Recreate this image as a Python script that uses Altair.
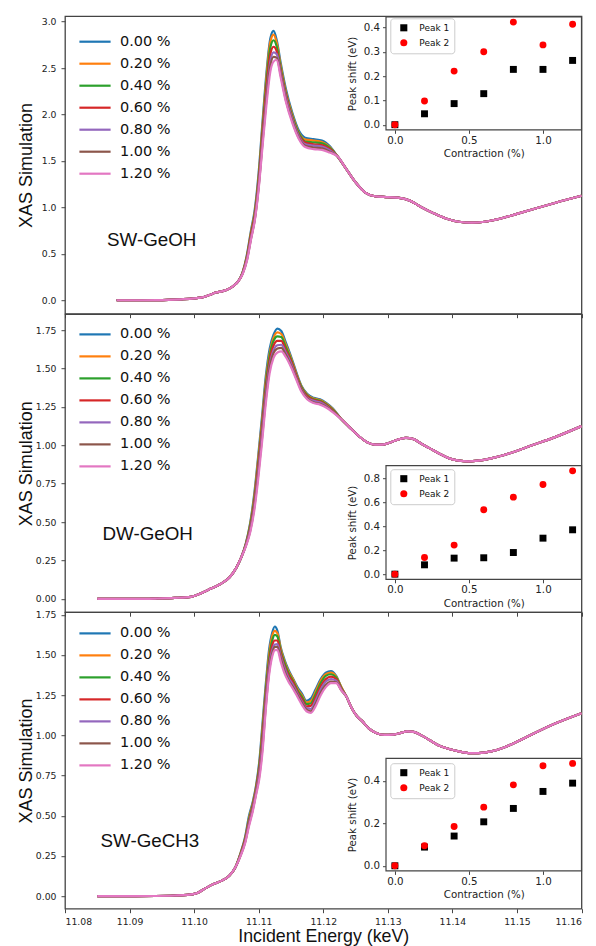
import altair as alt
import pandas as pd

# ---------------------------------------------------------------------------
# Shared categories
# ---------------------------------------------------------------------------
LEVELS = ["0.00 %", "0.20 %", "0.40 %", "0.60 %", "0.80 %", "1.00 %", "1.20 %"]
LINE_COLORS = ["#1f77b4", "#ff7f0e", "#2ca02c", "#d62728", "#9467bd", "#8c564b", "#e377c2"]
CONTRACTION = [0.0, 0.2, 0.4, 0.6, 0.8, 1.0, 1.2]
PEAKS = ["Peak 1", "Peak 2"]
E_TICKS = [11.08, 11.09, 11.10, 11.11, 11.12, 11.13, 11.14, 11.15, 11.16]

# ---------------------------------------------------------------------------
# SW-GeOH spectra (keV, arb. units)
# ---------------------------------------------------------------------------
SW_OH_E_EDGE = [11.0880, 11.0900, 11.0920, 11.0940, 11.0960, 11.0980, 11.1000,
                11.1015, 11.1025, 11.1032, 11.1040, 11.1050, 11.1060, 11.1068]
SW_OH_EDGE = [0.000, 0.000, 0.000, 0.001, 0.004, 0.010, 0.020,
              0.035, 0.060, 0.080, 0.092, 0.110, 0.150, 0.200]
SW_OH_E_PEAK = [11.1075, 11.1082, 11.1088, 11.1094, 11.1100, 11.1106, 11.1112, 11.1118, 11.1123,
                11.1128, 11.1134, 11.1142, 11.1152, 11.1162, 11.1172, 11.1185, 11.1198, 11.1210]
SW_OH_PEAK = [
    [0.30, 0.50, 0.75, 0.98, 1.38, 1.93, 2.45, 2.82, 2.90, 2.80, 2.56, 2.28, 2.02, 1.83, 1.75, 1.735, 1.72, 1.66],
    [0.297, 0.485, 0.73, 0.95, 1.34, 1.88, 2.40, 2.78, 2.86, 2.77, 2.53, 2.25, 2.00, 1.81, 1.73, 1.72, 1.705, 1.65],
    [0.294, 0.475, 0.71, 0.93, 1.31, 1.83, 2.34, 2.72, 2.80, 2.73, 2.50, 2.23, 1.98, 1.80, 1.71, 1.70, 1.69, 1.64],
    [0.29, 0.465, 0.70, 0.91, 1.28, 1.79, 2.28, 2.65, 2.73, 2.68, 2.47, 2.21, 1.96, 1.78, 1.70, 1.68, 1.67, 1.63],
    [0.286, 0.45, 0.67, 0.88, 1.24, 1.73, 2.20, 2.57, 2.67, 2.65, 2.45, 2.19, 1.95, 1.77, 1.68, 1.665, 1.655, 1.615],
    [0.283, 0.44, 0.66, 0.87, 1.22, 1.70, 2.16, 2.52, 2.62, 2.61, 2.43, 2.16, 1.93, 1.75, 1.665, 1.645, 1.635, 1.60],
    [0.28, 0.43, 0.65, 0.86, 1.20, 1.66, 2.10, 2.46, 2.57, 2.59, 2.40, 2.14, 1.91, 1.74, 1.65, 1.627, 1.62, 1.59],
]
SW_OH_E_TAIL = [11.1222, 11.1235, 11.1250, 11.1265, 11.1280, 11.1300, 11.1320, 11.1335, 11.1350, 11.1370,
                11.1390, 11.1410, 11.1430, 11.1450, 11.1475, 11.1500, 11.1530, 11.1560, 11.1600]
SW_OH_TAIL = [1.55, 1.42, 1.27, 1.16, 1.12, 1.11, 1.10, 1.07, 1.01, 0.94,
              0.88, 0.845, 0.835, 0.845, 0.88, 0.93, 0.99, 1.05, 1.125]
SW_OH_SHIFT_P1 = [0.0, 0.045, 0.087, 0.128, 0.228, 0.228, 0.265]
SW_OH_SHIFT_P2 = [0.0, 0.098, 0.221, 0.301, 0.423, 0.329, 0.414]

# ---------------------------------------------------------------------------
# DW-GeOH spectra
# ---------------------------------------------------------------------------
DW_OH_E_EDGE = [11.0850, 11.0880, 11.0910, 11.0940, 11.0970, 11.0995,
                11.1010, 11.1025, 11.1040, 11.1055, 11.1065, 11.1073]
DW_OH_EDGE = [0.000, 0.000, 0.000, 0.002, 0.006, 0.013,
              0.035, 0.065, 0.095, 0.140, 0.200, 0.270]
DW_OH_E_PEAK = [11.1080, 11.1087, 11.1093, 11.1099, 11.1105, 11.1111, 11.1117, 11.1123, 11.1129, 11.1135,
                11.1142, 11.1150, 11.1158, 11.1166, 11.1175, 11.1185, 11.1195, 11.1205, 11.1215]
DW_OH_PEAK = [
    [0.36, 0.50, 0.68, 0.92, 1.18, 1.45, 1.63, 1.72, 1.76, 1.745, 1.67, 1.58, 1.48, 1.39, 1.335, 1.31, 1.30, 1.275, 1.24],
    [0.357, 0.49, 0.66, 0.90, 1.15, 1.42, 1.60, 1.70, 1.735, 1.725, 1.655, 1.57, 1.47, 1.385, 1.33, 1.305, 1.295, 1.27, 1.235],
    [0.354, 0.48, 0.64, 0.87, 1.12, 1.39, 1.58, 1.68, 1.71, 1.705, 1.64, 1.56, 1.46, 1.38, 1.325, 1.30, 1.29, 1.265, 1.23],
    [0.35, 0.465, 0.62, 0.85, 1.10, 1.36, 1.55, 1.65, 1.68, 1.68, 1.62, 1.55, 1.455, 1.37, 1.32, 1.295, 1.285, 1.26, 1.225],
    [0.347, 0.455, 0.60, 0.82, 1.07, 1.33, 1.52, 1.62, 1.652, 1.655, 1.605, 1.535, 1.445, 1.365, 1.31, 1.29, 1.28, 1.255, 1.22],
    [0.344, 0.445, 0.59, 0.80, 1.04, 1.30, 1.50, 1.60, 1.63, 1.635, 1.59, 1.52, 1.44, 1.36, 1.305, 1.28, 1.27, 1.25, 1.22],
    [0.34, 0.435, 0.57, 0.77, 1.01, 1.27, 1.47, 1.57, 1.605, 1.612, 1.575, 1.51, 1.43, 1.35, 1.30, 1.275, 1.265, 1.245, 1.215],
]
DW_OH_E_TAIL = [11.1228, 11.1240, 11.1255, 11.1268, 11.1280, 11.1292, 11.1305, 11.1318, 11.1328, 11.1340, 11.1352,
                11.1365, 11.1380, 11.1395, 11.1410, 11.1425, 11.1440, 11.1460, 11.1490, 11.1520, 11.1560, 11.1600]
DW_OH_TAIL = [1.17, 1.12, 1.06, 1.02, 1.005, 1.005, 1.02, 1.04, 1.048, 1.04, 1.01,
              0.98, 0.945, 0.915, 0.90, 0.895, 0.90, 0.915, 0.95, 0.995, 1.055, 1.125]
DW_OH_SHIFT_P1 = [0.0, 0.078, 0.134, 0.137, 0.181, 0.301, 0.371]
DW_OH_SHIFT_P2 = [0.0, 0.139, 0.243, 0.538, 0.644, 0.750, 0.864]

# ---------------------------------------------------------------------------
# SW-GeCH3 spectra
# ---------------------------------------------------------------------------
SW_CH3_E_EDGE = [11.0850, 11.0880, 11.0910, 11.0940, 11.0970, 11.0990,
                 11.1005, 11.1018, 11.1030, 11.1042, 11.1054, 11.1064]
SW_CH3_EDGE = [0.000, 0.000, 0.000, 0.001, 0.004, 0.008,
               0.020, 0.050, 0.075, 0.095, 0.125, 0.180]
SW_CH3_E_PEAK = [11.1072, 11.1079, 11.1085, 11.1091, 11.1096, 11.1101, 11.1106, 11.1111, 11.1116,
                 11.1121, 11.1125, 11.1129, 11.1134, 11.1140, 11.1146, 11.1153, 11.1160, 11.1167,
                 11.1174, 11.1181, 11.1188, 11.1196, 11.1204, 11.1212, 11.1220, 11.1228]
SW_CH3_PEAK = [
    [0.27, 0.37, 0.50, 0.59, 0.69, 0.84, 1.08, 1.32, 1.53, 1.64, 1.677, 1.65, 1.55, 1.47, 1.41, 1.355,
     1.30, 1.26, 1.215, 1.23, 1.285, 1.35, 1.39, 1.40, 1.37, 1.30],
    [0.267, 0.36, 0.485, 0.58, 0.68, 0.82, 1.05, 1.29, 1.50, 1.62, 1.65, 1.635, 1.54, 1.46, 1.40, 1.35,
     1.29, 1.25, 1.205, 1.215, 1.27, 1.34, 1.38, 1.39, 1.365, 1.30],
    [0.264, 0.355, 0.475, 0.57, 0.67, 0.81, 1.02, 1.27, 1.47, 1.59, 1.625, 1.615, 1.525, 1.45, 1.39, 1.34,
     1.28, 1.24, 1.195, 1.20, 1.255, 1.325, 1.37, 1.38, 1.36, 1.295],
    [0.26, 0.35, 0.465, 0.56, 0.66, 0.79, 0.99, 1.24, 1.44, 1.56, 1.59, 1.59, 1.51, 1.43, 1.375, 1.33,
     1.27, 1.225, 1.18, 1.185, 1.235, 1.305, 1.35, 1.365, 1.35, 1.29],
    [0.257, 0.34, 0.455, 0.55, 0.65, 0.77, 0.96, 1.21, 1.42, 1.53, 1.565, 1.567, 1.495, 1.42, 1.36, 1.315,
     1.26, 1.21, 1.17, 1.165, 1.215, 1.285, 1.335, 1.35, 1.34, 1.285],
    [0.254, 0.335, 0.445, 0.54, 0.64, 0.75, 0.93, 1.18, 1.39, 1.51, 1.55, 1.551, 1.48, 1.40, 1.345, 1.30,
     1.25, 1.20, 1.16, 1.15, 1.195, 1.265, 1.315, 1.335, 1.33, 1.28],
    [0.25, 0.33, 0.435, 0.53, 0.63, 0.73, 0.90, 1.16, 1.37, 1.49, 1.53, 1.532, 1.46, 1.385, 1.335, 1.29,
     1.24, 1.19, 1.15, 1.14, 1.18, 1.25, 1.30, 1.325, 1.325, 1.28],
]
SW_CH3_E_TAIL = [11.1236, 11.1244, 11.1252, 11.1260, 11.1270, 11.1282, 11.1295, 11.1308, 11.1320, 11.1330,
                 11.1340, 11.1352, 11.1365, 11.1380, 11.1395, 11.1410, 11.1425, 11.1440, 11.1460, 11.1480,
                 11.1500, 11.1530, 11.1560, 11.1600]
SW_CH3_TAIL = [1.24, 1.17, 1.12, 1.09, 1.045, 1.015, 1.003, 1.005, 1.015, 1.025,
               1.022, 1.00, 0.97, 0.935, 0.915, 0.90, 0.89, 0.89, 0.90, 0.925,
               0.96, 1.02, 1.075, 1.138]
SW_CH3_SHIFT_P1 = [0.0, 0.088, 0.140, 0.207, 0.270, 0.350, 0.389]
SW_CH3_SHIFT_P2 = [0.0, 0.094, 0.185, 0.276, 0.381, 0.471, 0.482]

# ---------------------------------------------------------------------------
# Layout constants
# ---------------------------------------------------------------------------
PANEL_W = 516.5
INSET_X_DOMAIN = [-0.06, 1.26]
INSET_X_RANGE = [321, PANEL_W]


def spectra_table(e_edge, v_edge, e_peak, peak_rows, e_tail, v_tail):
    energies = e_edge + e_peak + e_tail
    records = []
    for level, peak_vals in zip(LEVELS, peak_rows):
        values = v_edge + peak_vals + v_tail
        for e, v in zip(energies, values):
            records.append({"energy": e, "xas": v, "contraction": level})
    return pd.DataFrame(records)


def shift_table(p1, p2):
    records = []
    for peak, shifts in zip(PEAKS, (p1, p2)):
        for c, s in zip(CONTRACTION, shifts):
            records.append({"strain": c, "shift": s, "peak": peak})
    return pd.DataFrame(records)


def panel(spectra, shifts, name, label_at, y_dom, y_ticks, y_fmt, height, legend_y,
          inset_y_dom, inset_y_range, inset_y_ticks, inset_legend_y, bottom):
    if bottom:
        x_axis = alt.Axis(values=E_TICKS, format=".2f", domain=False, tickSize=4, labelPadding=5,
                          title="Incident Energy (keV)", titleY=18.5, titleBaseline="top",
                          titleFontSize=17.8)
    else:
        x_axis = alt.Axis(values=E_TICKS, format=".2f", domain=False, tickSize=4, labels=False, title=None)
    y_axis = alt.Axis(values=y_ticks, format=y_fmt, title="XAS Simulation", domain=False,
                      tickSize=4, labelPadding=5, minExtent=27, maxExtent=27, titlePadding=3)
    x_scale = alt.Scale(domain=[11.08, 11.16], nice=False, zero=False)
    y_scale = alt.Scale(domain=y_dom, nice=False, zero=False)

    lines = alt.Chart(spectra).mark_line(strokeWidth=2.2, interpolate="monotone").encode(
        x=alt.X("energy:Q", scale=x_scale, axis=x_axis),
        y=alt.Y("xas:Q", scale=y_scale, axis=y_axis),
        color=alt.Color(
            "contraction:N",
            scale=alt.Scale(domain=LEVELS, range=LINE_COLORS),
            legend=alt.Legend(orient="none", legendX=22.5, legendY=legend_y, title=None,
                              symbolType="M-2.6,0H2.6", symbolSize=144, symbolStrokeWidth=2.2,
                              labelFont="DejaVu Sans", labelFontSize=14.5, labelColor="#111",
                              labelOffset=17.5, rowPadding=7, padding=0),
        ),
    )

    label = alt.Chart(pd.DataFrame({"energy": [label_at[0]], "xas": [label_at[1]], "name": [name]})).mark_text(
        align="left", baseline="middle", font="Liberation Sans", fontSize=18.8, color="#111"
    ).encode(x=alt.X("energy:Q", scale=x_scale, axis=x_axis),
             y=alt.Y("xas:Q", scale=y_scale, axis=y_axis),
             text="name:N")

    ix = alt.Scale(domain=INSET_X_DOMAIN, range=INSET_X_RANGE, nice=False, zero=False)
    iy = alt.Scale(domain=inset_y_dom, range=inset_y_range, nice=False, zero=False)
    ix_axis = alt.Axis(orient="bottom", offset=-(height - inset_y_range[0]), values=[0.0, 0.5, 1.0],
                       format=".1f", title="Contraction (%)", domain=False, tickSize=3.5,
                       labelPadding=2, titlePadding=3, labelFontSize=10.3, titleFont="DejaVu Sans",
                       titleFontSize=10.3, titleColor="#222")
    iy_axis = alt.Axis(orient="left", offset=-INSET_X_RANGE[0], values=inset_y_ticks, format=".1f",
                       title="Peak shift (eV)", domain=False, tickSize=3.5, labelPadding=3,
                       titlePadding=4, minExtent=24, maxExtent=24, labelFontSize=10.3,
                       titleFont="DejaVu Sans", titleFontSize=10.3, titleColor="#222")

    frame = alt.Chart(pd.DataFrame({"x0": [INSET_X_DOMAIN[0]], "x1": [INSET_X_DOMAIN[1]],
                                    "y0": [inset_y_dom[0]], "y1": [inset_y_dom[1]]})).mark_rect(
        fill="white", stroke="#444", strokeWidth=1.2
    ).encode(x=alt.X("x0:Q", scale=ix, axis=ix_axis), x2="x1:Q",
             y=alt.Y("y0:Q", scale=iy, axis=iy_axis), y2="y1:Q")

    peak_legend = alt.Legend(orient="none", legendX=325.3, legendY=inset_legend_y, title=None,
                             symbolSize=50, labelFont="DejaVu Sans", labelFontSize=9,
                             labelColor="#111", labelOffset=11, rowPadding=5, padding=5,
                             symbolOffset=4, strokeColor="#cccccc", fillColor="white", cornerRadius=3)
    points = alt.Chart(shifts).mark_point(filled=True, size=48, opacity=1).encode(
        x=alt.X("strain:Q", scale=ix, axis=ix_axis),
        y=alt.Y("shift:Q", scale=iy, axis=iy_axis),
        color=alt.Color("peak:N", scale=alt.Scale(domain=PEAKS, range=["black", "red"]), legend=peak_legend),
        shape=alt.Shape("peak:N", scale=alt.Scale(domain=PEAKS, range=["square", "circle"]), legend=peak_legend),
    )

    main = alt.layer(lines, label)
    inset = alt.layer(frame, points)
    return alt.layer(main, inset).resolve_scale(
        x="independent", y="independent", color="independent", shape="independent"
    ).properties(width=PANEL_W, height=height)


top = panel(
    spectra_table(SW_OH_E_EDGE, SW_OH_EDGE, SW_OH_E_PEAK, SW_OH_PEAK, SW_OH_E_TAIL, SW_OH_TAIL),
    shift_table(SW_OH_SHIFT_P1, SW_OH_SHIFT_P2),
    "SW-GeOH", (11.0865, 0.647), [-0.145, 3.059], [0.0, 0.5, 1.0, 1.5, 2.0, 2.5, 3.0], ".1f",
    297.5, 18, [-0.021, 0.444], [113.6, 0.8], [0.0, 0.1, 0.2, 0.3, 0.4], 2.1, False,
)
middle = panel(
    spectra_table(DW_OH_E_EDGE, DW_OH_EDGE, DW_OH_E_PEAK, DW_OH_PEAK, DW_OH_E_TAIL, DW_OH_TAIL),
    shift_table(DW_OH_SHIFT_P1, DW_OH_SHIFT_P2),
    "DW-GeOH", (11.0858, 0.42), [-0.087, 1.854], [0.0, 0.25, 0.5, 0.75, 1.0, 1.25, 1.5, 1.75], ".2f",
    298, 12.7, [-0.043, 0.908], [265.1, 151.4], [0.0, 0.2, 0.4, 0.6, 0.8], 155, False,
)
bottom = panel(
    spectra_table(SW_CH3_E_EDGE, SW_CH3_EDGE, SW_CH3_E_PEAK, SW_CH3_PEAK, SW_CH3_E_TAIL, SW_CH3_TAIL),
    shift_table(SW_CH3_SHIFT_P1, SW_CH3_SHIFT_P2),
    "SW-GeCH3", (11.0855, 0.34), [-0.078, 1.766], [0.0, 0.25, 0.5, 0.75, 1.0, 1.25, 1.5, 1.75], ".2f",
    296.5, 13.7, [-0.024, 0.506], [258.7, 146.1], [0.0, 0.2, 0.4], 151, True,
)

chart = alt.vconcat(top, middle, bottom, spacing=0, bounds="flush").resolve_scale(
    x="independent", y="independent", color="independent", shape="independent"
).properties(
    padding={"left": 16, "top": 15.2, "right": 0, "bottom": 0}
).configure_view(
    stroke="#444", strokeWidth=1.3
).configure_axis(
    labelFont="DejaVu Sans", labelFontSize=9.3, labelColor="#222", tickColor="#444",
    titleFont="Liberation Sans", titleFontSize=18, titleFontWeight="normal", titleColor="#111",
    grid=False,
)

chart.save("out.html", embed_options={"renderer": "svg", "actions": False})
